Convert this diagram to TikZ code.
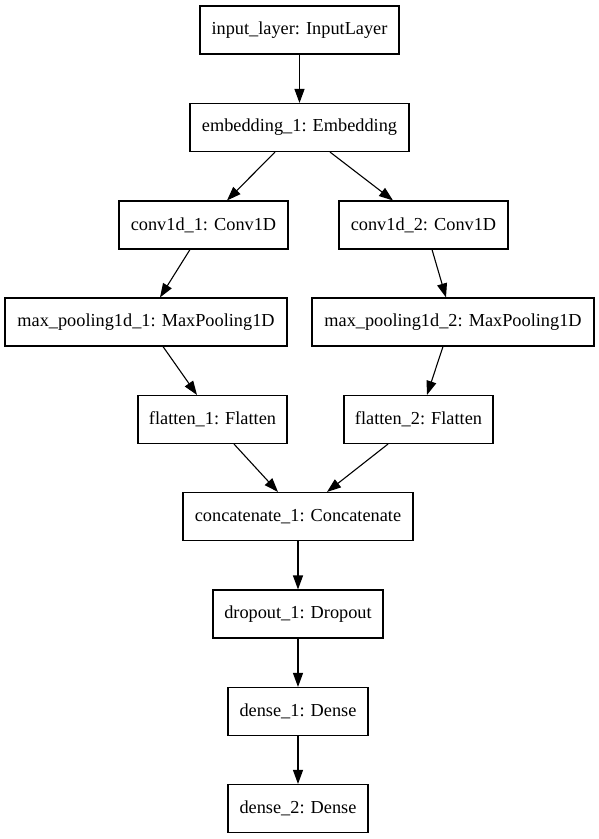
\documentclass[tikz,border=0pt]{standalone}
\usepackage{fontspec}
\setmainfont{Liberation Serif}
\usetikzlibrary{arrows.meta}
\begin{document}
\begin{tikzpicture}[x=1pt, y=-1pt,
  layer/.style={draw, line width=1.1pt, inner sep=0pt, minimum height=48pt,
    font=\fontsize{18.3pt}{20pt}\selectfont},
  flow/.style={draw, line width=1.1pt, -{Triangle[length=14pt, width=10pt]}}]
  \useasboundingbox[fill=white] (0,0) rectangle (599,839);

  % layers of the network
  \node[layer, minimum width=199pt] (inp)  at (299.5, 30)   {input\_layer: InputLayer};
  \node[layer, minimum width=219pt] (emb)  at (299.5, 127.5) {embedding\_1: Embedding};
  \node[layer, minimum width=169pt] (cva)  at (203.5, 225)  {conv1d\_1: Conv1D};
  \node[layer, minimum width=169pt] (cvb)  at (423.5, 225)  {conv1d\_2: Conv1D};
  \node[layer, minimum width=282pt] (mpa)  at (146, 322)    {max\_pooling1d\_1: MaxPooling1D};
  \node[layer, minimum width=282pt] (mpb)  at (453, 322)    {max\_pooling1d\_2: MaxPooling1D};
  \node[layer, minimum width=149pt] (fla)  at (212.5, 419.5) {flatten\_1: Flatten};
  \node[layer, minimum width=149pt] (flb)  at (418.5, 419.5) {flatten\_2: Flatten};
  \node[layer, minimum width=230pt] (cat)  at (298, 516.5)  {concatenate\_1: Concatenate};
  \node[layer, minimum width=170pt] (drop) at (298, 614)    {dropout\_1: Dropout};
  \node[layer, minimum width=140pt] (dna)  at (298, 711.5)  {dense\_1: Dense};
  \node[layer, minimum width=140pt] (dnb)  at (298, 808.5)  {dense\_2: Dense};

  % connections
  \draw[flow] (inp.south) -- (emb.north);
  \draw[flow] ([xshift=-24.5pt]emb.south) -- ([xshift=23.5pt]cva.north);
  \draw[flow] ([xshift=30.5pt]emb.south) -- ([xshift=-30.5pt]cvb.north);
  \draw[flow] ([xshift=-13.5pt]cva.south) -- ([xshift=14pt]mpa.north);
  \draw[flow] ([xshift=8.5pt]cvb.south) -- ([xshift=-7pt]mpb.north);
  \draw[flow] ([xshift=17pt]mpa.south) -- ([xshift=-15.5pt]fla.north);
  \draw[flow] ([xshift=-10pt]mpb.south) -- ([xshift=8.5pt]flb.north);
  \draw[flow] ([xshift=21.5pt]fla.south) -- ([xshift=-20pt]cat.north);
  \draw[flow] ([xshift=-30.5pt]flb.south) -- ([xshift=29pt]cat.north);
  \draw[flow] (cat.south) -- (drop.north);
  \draw[flow] (drop.south) -- (dna.north);
  \draw[flow] (dna.south) -- (dnb.north);
\end{tikzpicture}
\end{document}
